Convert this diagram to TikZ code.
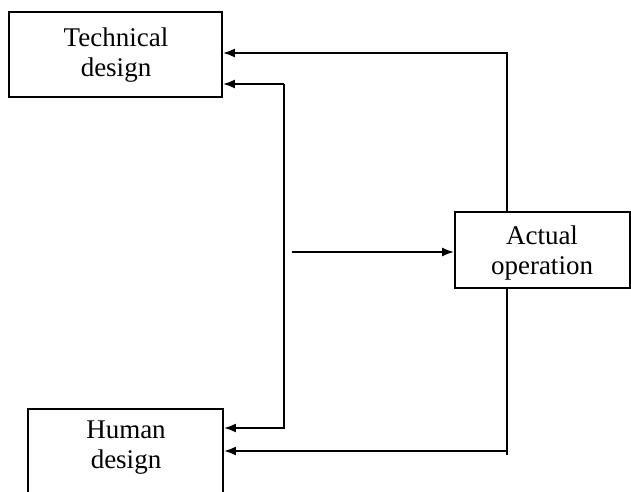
\documentclass[tikz,border=0pt]{standalone}
\usepackage{fontspec}
\setmainfont{Liberation Serif}
\usetikzlibrary{arrows.meta}
\begin{document}
\begin{tikzpicture}[x=1pt,y=-1pt,
  box/.style={draw,line width=1.8pt,inner sep=0pt},
  lbl/.style={align=center,font=\fontsize{27}{30}\selectfont,inner sep=0pt},
  conn/.style={line width=2pt},
  arr/.style={-{Latex[length=12pt,width=9pt]}}]
\useasboundingbox (0,0) rectangle (631,491);
% boxes
\node[box,minimum width=213pt,minimum height=85pt] (tech) at (115.5,54.5) {};
\node[lbl] (techt) at (116,55) {Technical\\design};
\node[box,minimum width=195pt,minimum height=110pt] (human) at (125.5,464) {};
\node[lbl] (humant) at (126,448) {Human\\design};
\node[box,minimum width=175pt,minimum height=76pt] (act) at (542.5,250) {};
\node[lbl] (actt) at (542,253) {Actual\\operation};
% coordinates
\coordinate (a1) at (507,53);
\coordinate (b1) at (284,84);
\coordinate (b2) at (284,428);
\coordinate (m) at (292,252);
\coordinate (c1) at (507,451);
\coordinate (c2) at (507,455);
% connectors
\draw[conn,arr] (act.north -| a1) -- (a1) -- (tech.east |- a1);
\draw[conn,arr] (b1) -- (tech.east |- b1);
\draw[conn,arr] (b1) -- (b2) -- (human.east |- b2);
\draw[conn,arr] (m) -- (act.west |- m);
\draw[conn] (act.south -| a1) -- (c2);
\draw[conn,arr] (c1) -- (human.east |- c1);
\end{tikzpicture}
\end{document}
